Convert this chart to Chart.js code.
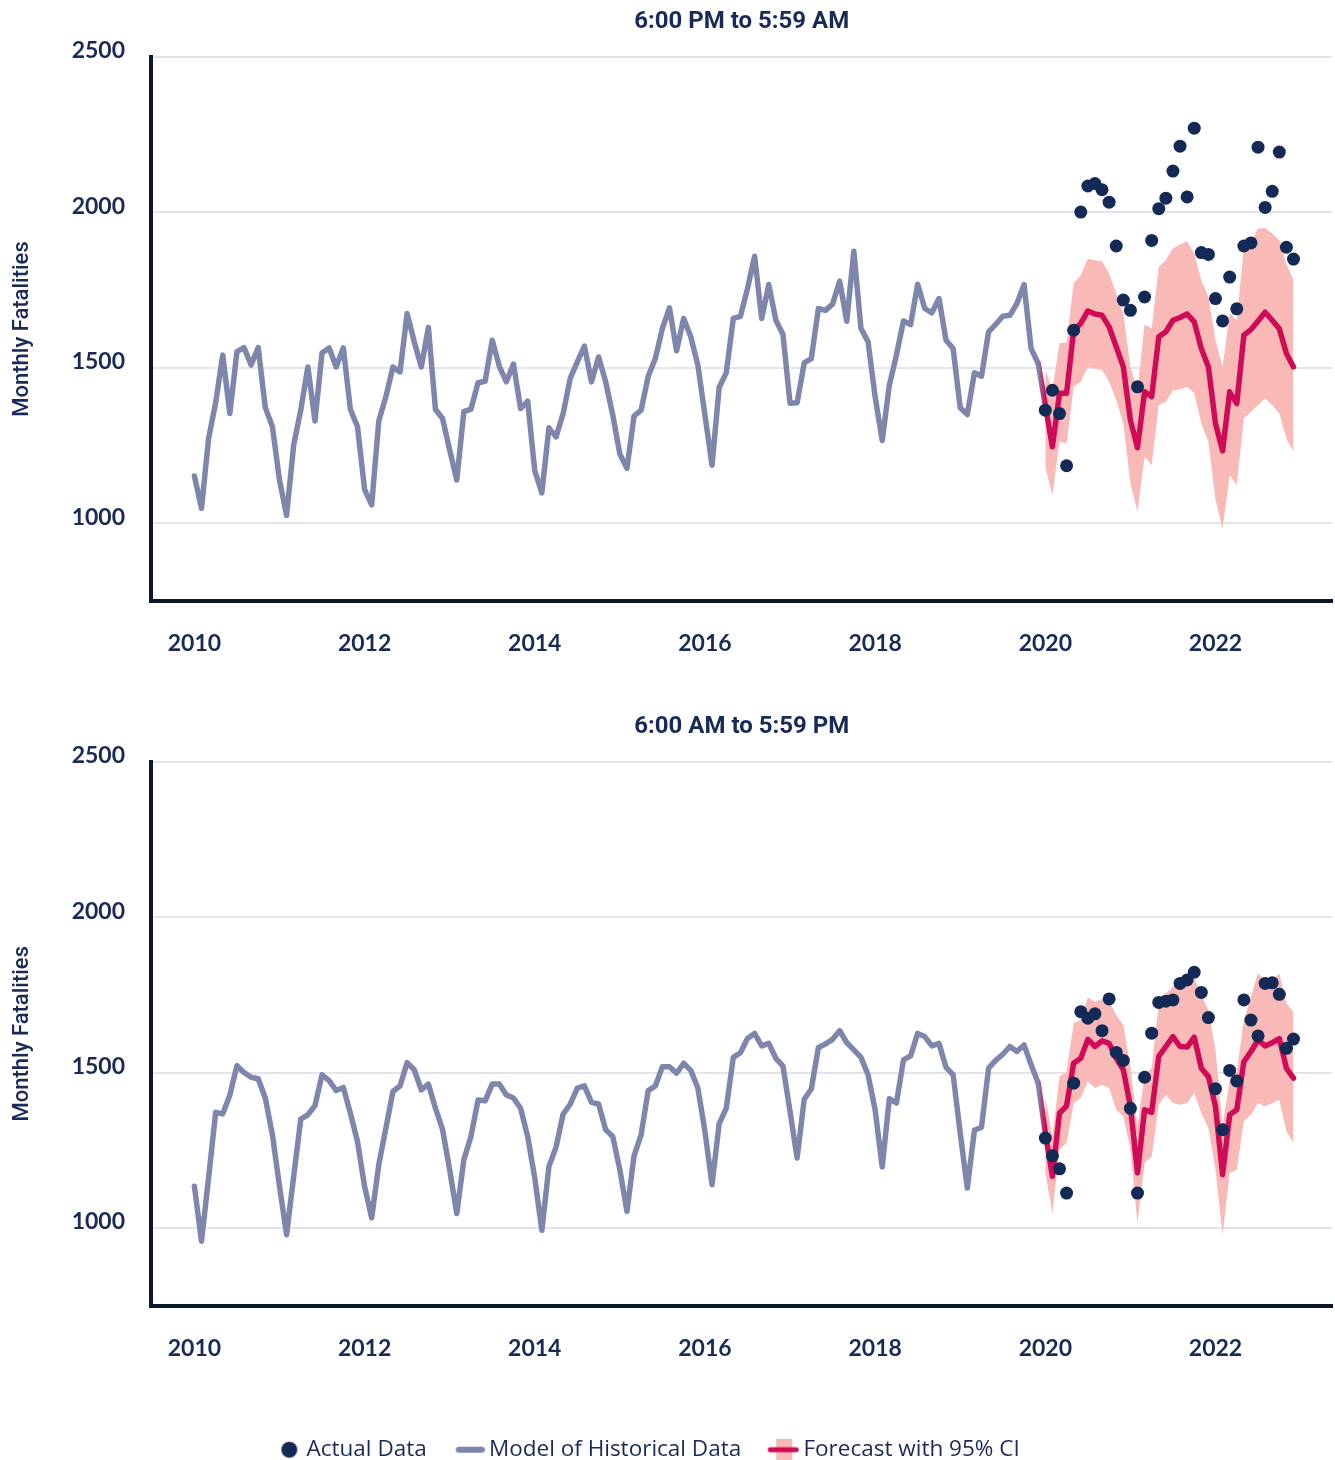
<!DOCTYPE html>
<html>
<head>
<meta charset="utf-8">
<script src="https://cdn.jsdelivr.net/npm/chart.js@4.4.0/dist/chart.umd.min.js"></script>
<style>
html, body { margin: 0; padding: 0; background: #ffffff; width: 1335px; height: 1460px; overflow: hidden; }
#c1 { position: absolute; left: 0; top: 0; width: 1339px; height: 680px; }
#c2 { position: absolute; left: 0; top: 705px; width: 1339px; height: 766px; }
</style>
</head>
<body>
<canvas id="c1" width="1339" height="680"></canvas>
<canvas id="c2" width="1339" height="766"></canvas>
<script>
// ---------- data ----------
const startYear = 2010;              // first month of the historical model = Jan 2010
const forecastStartYear = 2020;      // forecast / actual data start = Jan 2020
const tickYears = [2010, 2012, 2014, 2016, 2018, 2020, 2022];
const yTickValues = [1000, 1500, 2000, 2500];
const panelTitles = ['6:00 PM to 5:59 AM', '6:00 AM to 5:59 PM'];
const legendNames = ['Actual Data', 'Model of Historical Data', 'Forecast with 95% CI'];

// 6:00 PM to 5:59 AM  (monthly, Jan 2010 - Dec 2019)
const nightModel = [
  1152,1048,1273,1388,1541,1353,1552,1565,1509,1565,1372,1311,
  1139,1025,1252,1364,1503,1329,1548,1564,1503,1564,1366,1311,
  1109,1059,1329,1407,1503,1487,1675,1584,1503,1630,1366,1337,
  1236,1139,1359,1367,1452,1457,1589,1505,1455,1512,1369,1393,
  1169,1098,1307,1278,1353,1466,1519,1570,1455,1535,1455,1348,
  1223,1177,1345,1364,1473,1530,1627,1693,1555,1659,1600,1509,
  1348,1187,1437,1484,1659,1666,1755,1859,1659,1768,1653,1608,
  1386,1388,1516,1530,1691,1685,1705,1779,1650,1875,1627,1584,
  1407,1266,1444,1541,1651,1639,1769,1691,1677,1723,1589,1562,
  1372,1350,1484,1473,1616,1640,1666,1669,1707,1768,1562,1514
];
// Jan 2020 - Dec 2022
const nightForecast = [
  1380,1246,1418,1418,1621,1643,1683,1673,1669,1632,1568,1503,
  1332,1243,1423,1407,1600,1616,1653,1662,1673,1648,1562,1503,
  1321,1233,1423,1385,1605,1623,1651,1679,1653,1626,1546,1503
];
const nightUpper = [
  1493,1430,1580,1581,1773,1798,1851,1846,1843,1803,1739,1675,
  1503,1428,1640,1626,1825,1846,1884,1897,1907,1867,1782,1728,
  1589,1503,1675,1653,1889,1905,1948,1950,1932,1910,1835,1782
];
const nightLower = [
  1182,1091,1262,1257,1439,1455,1503,1498,1493,1455,1396,1321,
  1128,1037,1214,1187,1380,1391,1428,1430,1439,1418,1321,1262,
  1075, 984,1155,1123,1337,1359,1380,1402,1380,1353,1273,1230
];
const nightActual = [
  1364,1428,1353,1185,1621,2001,2085,2093,2073,2033,1892,1718,
  1685,1439,1728,1910,2012,2046,2133,2213,2050,2271,1871,1865,
  1723,1651,1792,1690,1892,1902,2210,2016,2068,2194,1888,1850
];

// 6:00 AM to 5:59 PM
const dayModel = [
  1134, 957,1161,1372,1367,1428,1522,1500,1485,1480,1418,1300,
  1134, 978,1166,1350,1364,1393,1493,1474,1442,1452,1369,1278,
  1134,1032,1203,1321,1439,1457,1532,1509,1444,1463,1385,1316,
  1187,1046,1219,1294,1412,1409,1463,1463,1428,1418,1385,1294,
  1161, 992,1198,1260,1366,1398,1450,1457,1404,1399,1316,1294,
  1187,1053,1232,1300,1442,1457,1519,1519,1498,1530,1507,1450,
  1311,1139,1335,1385,1549,1564,1610,1626,1586,1594,1546,1521,
  1375,1225,1414,1447,1581,1592,1607,1635,1596,1573,1549,1493,
  1380,1196,1416,1402,1541,1554,1626,1616,1586,1594,1517,1493,
  1305,1128,1314,1324,1514,1539,1559,1584,1568,1589,1525,1466
];
const dayForecast = [
  1305,1166,1369,1393,1530,1546,1607,1584,1602,1594,1546,1509,
  1391,1177,1380,1372,1552,1584,1616,1584,1582,1614,1514,1487,
  1391,1171,1364,1380,1535,1568,1605,1586,1596,1609,1514,1482
];
const dayUpper = [
  1423,1294,1487,1503,1659,1669,1742,1728,1736,1728,1685,1653,
  1519,1327,1493,1514,1723,1755,1776,1798,1776,1803,1750,1701,
  1573,1327,1477,1503,1669,1744,1821,1793,1798,1819,1723,1696
];
const dayLower = [
  1177,1048,1252,1273,1402,1418,1471,1450,1460,1450,1380,1359,
  1252,1016,1209,1230,1396,1428,1402,1396,1402,1434,1369,1321,
  1187, 978,1177,1187,1343,1364,1402,1391,1402,1412,1311,1273
];
const dayActual = [
  1289,1232,1190,1112,1466,1696,1675,1689,1635,1737,1565,1539,
  1385,1112,1485,1627,1726,1730,1734,1787,1798,1823,1758,1677,
  1448,1316,1507,1473,1734,1669,1618,1787,1789,1752,1578,1608
];

// ---------- styling ----------
const NAVY = '#1a2a57';
const AXIS = '#0c1729';
const GRID = '#e3e5ed';
const GRAY = '#7e87ab';
const RED = '#cf0a57';
const PINK = '#f8b9b7';
const DOT = '#132a56';

const toPoints = (vals, y0) => vals.map((v, i) => ({ x: y0 + i / 12, y: v }));

function icon(kind) {
  const c = document.createElement('canvas');
  c.width = 44; c.height = 24;
  const g = c.getContext('2d');
  if (kind === 0) {
    g.fillStyle = DOT; g.beginPath(); g.arc(31, 12, 8, 0, Math.PI * 2); g.fill();
  } else if (kind === 1) {
    g.strokeStyle = GRAY; g.lineWidth = 6; g.lineCap = 'round';
    g.beginPath(); g.moveTo(18, 12); g.lineTo(41, 12); g.stroke();
  } else {
    g.fillStyle = PINK; g.fillRect(21, 1, 16, 22);
    g.strokeStyle = RED; g.lineWidth = 5; g.lineCap = 'round';
    g.beginPath(); g.moveTo(15, 12); g.lineTo(41, 12); g.stroke();
  }
  return c;
}

// moves the centred legend row so it sits where the original one does
const legendShift = {
  id: 'legendShift',
  afterLayout(chart) {
    const l = chart.legend;
    if (l && l.options.display) { l.left -= 26; l.right -= 26; }
  }
};

const tickFont = { family: 'Lato', weight: '700', size: 23 };

function makeChart(id, title, model, forecast, upper, lower, actual, withLegend, xHeight) {
  const lastModelX = startYear + (model.length - 1) / 12;
  const connector = [{ x: lastModelX, y: model[model.length - 1] }].concat(toPoints(forecast, forecastStartYear));
  return new Chart(document.getElementById(id), {
    type: 'line',
    plugins: [legendShift],
    data: {
      datasets: [
        { label: legendNames[0], data: toPoints(actual, forecastStartYear), showLine: false,
          pointRadius: 6.5, pointBackgroundColor: DOT, pointBorderWidth: 0, order: 0 },
        { label: legendNames[2], data: connector, borderWidth: 5.5, pointRadius: 0,
          borderJoinStyle: 'round', borderCapStyle: 'round', order: 1,
          borderColor: (ctx) => {
            const ch = ctx.chart;
            if (!ch.chartArea || !ch.scales.x) return RED;
            const x0 = ch.scales.x.getPixelForValue(lastModelX);
            const x1 = ch.scales.x.getPixelForValue(forecastStartYear);
            const gr = ch.ctx.createLinearGradient(x0, 0, x1, 0);
            gr.addColorStop(0, GRAY); gr.addColorStop(1, RED);
            return gr;
          } },
        { label: legendNames[1], data: toPoints(model, startYear), borderColor: GRAY, borderWidth: 5.5,
          pointRadius: 0, borderJoinStyle: 'round', borderCapStyle: 'round', order: 2 },
        { label: 'upper', data: toPoints(upper, forecastStartYear), borderWidth: 0, pointRadius: 0,
          backgroundColor: PINK, fill: '+1', order: 3 },
        { label: 'lower', data: toPoints(lower, forecastStartYear), borderWidth: 0, pointRadius: 0,
          fill: false, order: 4 }
      ]
    },
    options: {
      responsive: false, devicePixelRatio: 1, animation: false,
      events: [],
      layout: { padding: { left: 0, right: 2, top: 0, bottom: 0 } },
      plugins: {
        tooltip: { enabled: false },
        title: {
          display: true, text: title, color: NAVY, fullSize: false,
          font: { family: 'Roboto', weight: '700', size: 24, lineHeight: 1.2 },
          padding: { top: 8, bottom: 20.2 }
        },
        legend: {
          display: withLegend, position: 'bottom', onClick: null,
          labels: {
            usePointStyle: true, pointStyleWidth: 30, padding: 21, color: NAVY,
            font: { family: 'Open Sans', size: 22.5 },
            generateLabels: () => legendNames.map((t, k) => ({
              text: t, pointStyle: icon(k), fillStyle: 'rgba(0,0,0,0)', strokeStyle: 'rgba(0,0,0,0)',
              lineWidth: 0, hidden: false, fontColor: NAVY, datasetIndex: k
            }))
          }
        }
      },
      scales: {
        x: {
          type: 'linear', min: 2009.49, max: 2023.375,
          afterBuildTicks: (s) => { s.ticks = tickYears.map(v => ({ value: v })); },
          afterFit: (s) => { s.height = xHeight; s.paddingLeft = 0; s.paddingRight = 0; },
          grid: { display: false, drawTicks: false },
          border: { display: true, color: AXIS, width: 4 },
          ticks: { color: NAVY, padding: 29, maxRotation: 0, autoSkip: false,
                   font: tickFont, callback: (v) => String(v) }
        },
        y: {
          min: 750, max: 2500,
          afterBuildTicks: (s) => { s.ticks = yTickValues.map(v => ({ value: v })); },
          afterFit: (s) => { s.width = 151; },
          grid: { color: GRID, lineWidth: 2, drawTicks: false },
          border: { display: true, color: AXIS, width: 4 },
          ticks: { color: NAVY, padding: 26, labelOffset: -6,
                   font: tickFont, callback: (v) => String(v) },
          title: { display: true, text: 'Monthly Fatalities', color: NAVY,
                   font: { family: 'Roboto', weight: '500', size: 22, lineHeight: 1.2 },
                   padding: { top: 9, bottom: 0 } }
        }
      }
    }
  });
}

makeChart('c1', panelTitles[0], nightModel, nightForecast, nightUpper, nightLower, nightActual, false, 79);
makeChart('c2', panelTitles[1], dayModel, dayForecast, dayUpper, dayLower, dayActual, true, 112);
</script>
</body>
</html>
